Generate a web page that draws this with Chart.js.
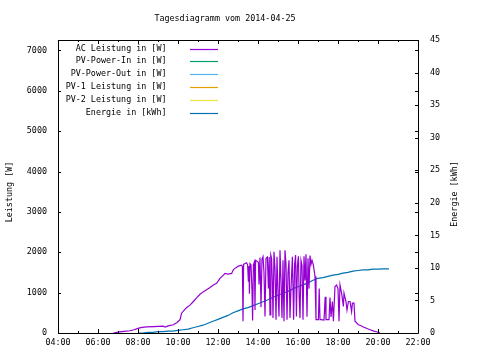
<!DOCTYPE html>
<html>
<head>
<meta charset="utf-8">
<script src="https://cdn.jsdelivr.net/npm/chart.js@4.4.0/dist/chart.umd.min.js"></script>
<style>
body{margin:0;background:#fff;}
canvas{display:block;}
</style>
</head>
<body>
<canvas id="myChart" width="480" height="360"></canvas>
<script>
// Tagesdiagramm Wechselrichter
var titel = "Tagesdiagramm vom 2014-04-25";
var serien = ["AC Leistung in [W]", "PV-Power-In in [W]", "PV-Power-Out in [W]", "PV-1 Leistung in [W]", "PV-2 Leistung in [W]", "Energie in [kWh]"];
var farben = ["#9400d3", "#009e73", "#56b4e9", "#e69f00", "#f0e442", "#0072b2"];

// Uhrzeit in Stunden, AC Leistung in W
var acStunden = [6.77, 7.0, 7.3, 7.6, 7.8, 8.0, 8.2, 8.43, 8.8, 9.0, 9.27, 9.35, 9.5, 9.77, 9.95, 10.02, 10.1, 10.18, 10.3, 10.45,
  10.6, 10.77, 10.93, 11.1, 11.27, 11.45, 11.6, 11.77, 11.93, 12.1, 12.27, 12.35, 12.5, 12.68, 12.77, 12.9, 13.02, 13.18, 13.22, 13.25,
  13.28, 13.35, 13.43, 13.48, 13.52, 13.55, 13.57, 13.6, 13.65, 13.7, 13.73, 13.77, 13.82, 13.85, 13.88, 13.95, 14.02, 14.05, 14.1, 14.15,
  14.2, 14.25, 14.3, 14.35, 14.4, 14.47, 14.52, 14.56, 14.6, 14.64, 14.68, 14.72, 14.75, 14.8, 14.85, 14.9, 14.95, 15.0, 15.05, 15.1,
  15.15, 15.2, 15.25, 15.3, 15.35, 15.4, 15.45, 15.5, 15.55, 15.6, 15.65, 15.72, 15.78, 15.83, 15.88, 15.92, 15.97, 16.02, 16.06, 16.1,
  16.15, 16.2, 16.25, 16.3, 16.35, 16.4, 16.45, 16.5, 16.55, 16.6, 16.65, 16.7, 16.77, 16.85, 16.9, 17.02, 17.06, 17.1, 17.15, 17.3,
  17.36, 17.4, 17.45, 17.55, 17.6, 17.65, 17.72, 17.77, 17.85, 17.93, 18.0, 18.05, 18.1, 18.18, 18.27, 18.3, 18.4, 18.45, 18.52, 18.6,
  18.68, 18.72, 18.8, 18.85, 19.02, 19.15, 19.27, 19.45, 19.6, 19.8, 19.93, 20.1];
var acWatt = [0, 20, 40, 55, 80, 115, 140, 150, 160, 165, 170, 145, 175, 205, 260, 290, 330, 490, 560, 640,
  690, 780, 870, 960, 1025, 1080, 1130, 1190, 1230, 1354, 1435, 1477, 1460, 1477, 1570, 1620, 1658, 1682, 1650, 290,
  1700, 1720, 1740, 1690, 1270, 1660, 970, 1720, 1690, 1050, 310, 1690, 1760, 570, 1800, 1780, 1750, 1200, 1870, 640,
  1830, 1890, 1500, 410, 1850, 1880, 1100, 1880, 450, 1930, 1850, 1200, 370, 2010, 1600, 330, 1890, 1000, 410, 2050,
  1300, 370, 1800, 290, 2050, 1700, 330, 1500, 1800, 370, 1100, 1890, 330, 1700, 1930, 410, 1650, 1900, 900, 370,
  1800, 1680, 330, 1900, 1300, 1950, 400, 1850, 1100, 1920, 1700, 1800, 1680, 1400, 330, 330, 1100, 330, 330, 320,
  900, 330, 330, 330, 880, 400, 780, 290, 1150, 1190, 1100, 290, 1190, 990, 660, 990, 780, 570, 780, 780,
  530, 740, 740, 290, 205, 180, 150, 110, 80, 45, 30, 0];

// Energie in kWh (kumuliert)
var energieStunden = [8.0, 8.25, 8.5, 8.75, 9.0, 9.25, 9.5, 9.75, 10.0, 10.25, 10.5, 10.75, 11.0, 11.25, 11.5, 11.75, 12.0, 12.25, 12.5, 12.75,
  13.0, 13.25, 13.5, 13.75, 14.0, 14.25, 14.5, 14.75, 15.0, 15.25, 15.5, 15.75, 16.0, 16.25, 16.5, 16.75, 17.0, 17.25, 17.5, 17.75,
  18.0, 18.25, 18.5, 18.75, 19.0, 19.25, 19.5, 19.75, 20.0, 20.25, 20.55];
var energieKwh = [0.0, 0.0, 0.1, 0.1, 0.2, 0.2, 0.3, 0.3, 0.4, 0.5, 0.6, 0.8, 1.0, 1.2, 1.5, 1.8, 2.1, 2.4, 2.7, 3.1,
  3.4, 3.7, 3.9, 4.2, 4.5, 4.8, 5.1, 5.5, 5.8, 6.1, 6.4, 6.8, 7.1, 7.4, 7.7, 8.1, 8.4, 8.5, 8.7, 8.9,
  9.0, 9.2, 9.3, 9.5, 9.6, 9.7, 9.7, 9.8, 9.8, 9.85, 9.85];

var xTicks = [4, 6, 8, 10, 12, 14, 16, 18, 20, 22];
var yTicks = [0, 1000, 2000, 3000, 4000, 5000, 6000, 7000];
var y2Ticks = [0, 5, 10, 15, 20, 25, 30, 35, 40, 45];

var schrift = "DejaVu Sans Mono";

function punkte(xs, ys) {
  var p = [];
  for (var i = 0; i < xs.length; i++) {
    p.push({x: xs[i], y: ys[i]});
  }
  return p;
}

function uhrzeit(h) {
  return (h < 10 ? "0" : "") + h + ":00";
}

var rahmen = {
  id: 'rahmen',
  afterDraw: function (chart) {
    var c = chart.ctx;
    var a = chart.chartArea;
    var sx = chart.scales.x, sy = chart.scales.y, sy2 = chart.scales.y2;
    c.save();
    c.strokeStyle = "#000";
    c.lineWidth = 1;
    c.beginPath();
    c.rect(Math.round(a.left) + 0.5, Math.round(a.top) + 0.5, Math.round(a.right - a.left), Math.round(a.bottom - a.top));
    // x ticks, unten und oben
    for (var h = 4; h <= 22; h++) {
      var px = Math.round(sx.getPixelForValue(h)) + 0.5;
      var l = (h % 2 == 0) ? 4 : 2;
      c.moveTo(px, a.bottom); c.lineTo(px, a.bottom - l);
      c.moveTo(px, a.top); c.lineTo(px, a.top + l);
    }
    yTicks.forEach(function (v) {
      var py = Math.round(sy.getPixelForValue(v)) + 0.5;
      c.moveTo(a.left, py); c.lineTo(a.left + 3, py);
      c.moveTo(a.right, py); c.lineTo(a.right - 3, py);
    });
    y2Ticks.forEach(function (v) {
      var py = Math.round(sy2.getPixelForValue(v)) + 0.5;
      c.moveTo(a.right, py); c.lineTo(a.right - 3, py);
    });
    c.stroke();

    c.fillStyle = "#000";
    c.font = "8.4px '" + schrift + "'";
    c.textAlign = "center";
    c.textBaseline = "middle";
    c.fillText(titel, 225, 19);

    c.save();
    c.translate(10, 192);
    c.rotate(-Math.PI / 2);
    c.fillText("Leistung [W]", 0, 0);
    c.restore();
    c.save();
    c.translate(455, 194);
    c.rotate(-Math.PI / 2);
    c.fillText("Energie [kWh]", 0, 0);
    c.restore();

    // Legende
    c.textAlign = "right";
    chart.data.datasets.forEach(function (ds, i) {
      var y = 48.5 + i * 12.8;
      c.fillStyle = "#000";
      c.fillText(ds.label, 166.5, y);
      c.strokeStyle = ds.borderColor;
      c.lineWidth = 1.2;
      c.beginPath();
      c.moveTo(190, Math.round(y) + 0.5);
      c.lineTo(218, Math.round(y) + 0.5);
      c.stroke();
    });
    c.restore();
  }
};

var datensaetze = [];
for (var i = 0; i < serien.length; i++) {
  var d = [];
  if (i == 0) d = punkte(acStunden, acWatt);
  if (i == 5) d = punkte(energieStunden, energieKwh);
  datensaetze.push({
    label: serien[i],
    data: d,
    yAxisID: i == 5 ? 'y2' : 'y',
    borderColor: farben[i],
    backgroundColor: farben[i],
    borderWidth: 1.2,
    pointRadius: 0,
    tension: 0,
    fill: false
  });
}

new Chart(document.getElementById('myChart').getContext('2d'), {
  type: 'line',
  data: {datasets: datensaetze},
  options: {
    responsive: false,
    animation: false,
    devicePixelRatio: 1,
    layout: {padding: {top: 40, left: 0, right: 0, bottom: 0}},
    plugins: {legend: {display: false}, tooltip: {enabled: false}},
    scales: {
      x: {
        type: 'linear', min: 4, max: 22,
        afterFit: function (s) { s.height = 27; },
        afterBuildTicks: function (s) { s.ticks = xTicks.map(function (v) { return {value: v}; }); },
        grid: {display: false, drawTicks: false},
        border: {display: false},
        ticks: {padding: 5, color: "#000", font: {family: schrift, size: 8.4}, maxRotation: 0, autoSkip: false,
          callback: function (v) { return uhrzeit(v); }}
      },
      y: {
        position: 'left', min: 0, max: 7260,
        afterFit: function (s) { s.width = 58; },
        afterBuildTicks: function (s) { s.ticks = yTicks.map(function (v) { return {value: v}; }); },
        grid: {display: false, drawTicks: false},
        border: {display: false},
        ticks: {padding: 11, color: "#000", font: {family: schrift, size: 8.4},
          callback: function (v) { return String(v); }}
      },
      y2: {
        position: 'right', min: 0, max: 45,
        afterFit: function (s) { s.width = 62; },
        afterBuildTicks: function (s) { s.ticks = y2Ticks.map(function (v) { return {value: v}; }); },
        grid: {display: false, drawTicks: false},
        border: {display: false},
        ticks: {padding: 12, color: "#000", font: {family: schrift, size: 8.4},
          callback: function (v) { return String(v); }}
      }
    }
  },
  plugins: [rahmen]
});
</script>
</body>
</html>
